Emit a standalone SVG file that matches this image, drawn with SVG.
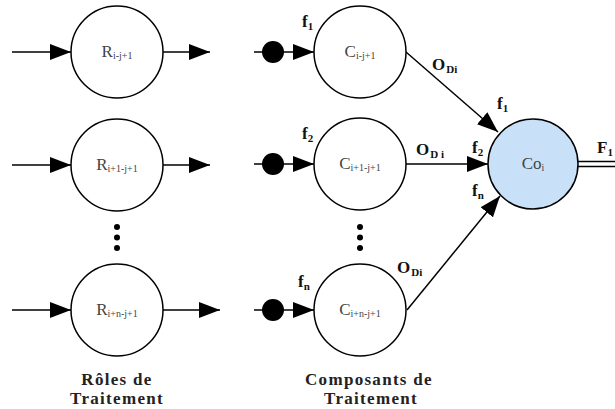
<svg xmlns="http://www.w3.org/2000/svg" width="615" height="409" viewBox="0 0 615 409">
<style>
.node{fill:#fff;stroke:#000;stroke-width:1.5}
.co{fill:#c8e1f8;stroke:#000;stroke-width:1.5}
.lbl{font-family:'Liberation Serif','Times New Roman','Noto Serif',Times,serif;font-size:17px;fill:#444;text-anchor:middle}
.sub{font-size:10px}
.edge{stroke:#000;stroke-width:1.5;fill:none}
.b{font-family:'Liberation Serif','Times New Roman','Noto Serif',Times,serif;font-weight:bold;font-size:17px;fill:#111}
.bs{font-size:11px}
.cap{font-family:'Liberation Serif','Times New Roman','Noto Serif',Times,serif;font-weight:bold;font-size:17px;fill:#222;text-anchor:middle;letter-spacing:1.3px}
.dot{fill:#000}
</style>
<defs>
<marker id="ah" markerUnits="userSpaceOnUse" markerWidth="22" markerHeight="16" refX="21" refY="8" orient="auto">
<path d="M0,0 L21,8 L0,16 Z" fill="#000"/>
</marker>
</defs>
<g id="connectors">
<line class="edge" x1="12" y1="52" x2="71" y2="52" marker-end="url(#ah)"/>
<line class="edge" x1="163" y1="52" x2="210" y2="52" marker-end="url(#ah)"/>
<line class="edge" x1="12" y1="165" x2="71" y2="165" marker-end="url(#ah)"/>
<line class="edge" x1="163" y1="165" x2="210" y2="165" marker-end="url(#ah)"/>
<line class="edge" x1="12" y1="310" x2="71" y2="310" marker-end="url(#ah)"/>
<line class="edge" x1="163" y1="310" x2="220" y2="310" marker-end="url(#ah)"/>
<line class="edge" x1="254" y1="52" x2="314" y2="52" marker-end="url(#ah)"/>
<line class="edge" x1="254" y1="164" x2="314" y2="164" marker-end="url(#ah)"/>
<line class="edge" x1="254" y1="310" x2="314" y2="310" marker-end="url(#ah)"/>
<circle class="dot" cx="273" cy="52" r="11"/>
<circle class="dot" cx="273" cy="164" r="11"/>
<circle class="dot" cx="273" cy="310" r="11"/>
<line class="edge" x1="406" y1="52" x2="498" y2="132" marker-end="url(#ah)"/>
<line class="edge" x1="406" y1="164" x2="488" y2="164" marker-end="url(#ah)"/>
<line class="edge" x1="407" y1="310" x2="500" y2="196" marker-end="url(#ah)"/>
<line class="edge" x1="578" y1="161.5" x2="615" y2="161.5"/>
<line class="edge" x1="578" y1="166.5" x2="615" y2="166.5"/>
<text class="b" x="432" y="70">O<tspan class="bs" dy="3" dx="1">Di</tspan></text>
<text class="b" x="416" y="155">O<tspan class="bs" dy="3" dx="1">D i</tspan></text>
<text class="b" x="397" y="273">O<tspan class="bs" dy="3" dx="1">Di</tspan></text>
<text class="b" x="497" y="109">f<tspan class="bs" dy="3">1</tspan></text>
<text class="b" x="472" y="153">f<tspan class="bs" dy="3">2</tspan></text>
<text class="b" x="472" y="196">f<tspan class="bs" dy="3">n</tspan></text>
<text class="b" x="597" y="153">F<tspan class="bs" dy="3">1</tspan></text>
<text class="b" x="302" y="27">f<tspan class="bs" dy="3">1</tspan></text>
<text class="b" x="302" y="139">f<tspan class="bs" dy="3">2</tspan></text>
<text class="b" x="298" y="287">f<tspan class="bs" dy="3">n</tspan></text>
</g>
<g id="R1"><circle class="node" cx="117" cy="52" r="46"/><text class="lbl" x="117" y="57">R<tspan class="sub" dy="2">i-j+1</tspan></text></g>
<g id="R2"><circle class="node" cx="117" cy="165" r="46"/><text class="lbl" x="117" y="170">R<tspan class="sub" dy="2">i+1-j+1</tspan></text></g>
<g id="R3"><circle class="node" cx="117" cy="310" r="46"/><text class="lbl" x="117" y="315">R<tspan class="sub" dy="2">i+n-j+1</tspan></text></g>
<g id="Rdots"><circle class="dot" cx="117" cy="227" r="3"/><circle class="dot" cx="117" cy="237.5" r="3"/><circle class="dot" cx="117" cy="248" r="3"/></g>
<g id="C1"><circle class="node" cx="360" cy="52" r="46"/><text class="lbl" x="360" y="57">C<tspan class="sub" dy="2">i-j+1</tspan></text></g>
<g id="C2"><circle class="node" cx="360" cy="164" r="46"/><text class="lbl" x="360" y="169">C<tspan class="sub" dy="2">i+1-j+1</tspan></text></g>
<g id="C3"><circle class="node" cx="360" cy="310" r="46"/><text class="lbl" x="360" y="315">C<tspan class="sub" dy="2">i+n-j+1</tspan></text></g>
<g id="Cdots"><circle class="dot" cx="360" cy="227" r="3"/><circle class="dot" cx="360" cy="237.5" r="3"/><circle class="dot" cx="360" cy="248" r="3"/></g>
<g id="Co"><circle class="co" cx="533" cy="164" r="45"/><text class="lbl" x="533" y="169">Co<tspan class="sub" dy="2">i</tspan></text></g>
<g id="captions">
<text class="cap" x="117" y="385">Rôles de</text>
<text class="cap" x="117" y="404">Traitement</text>
<text class="cap" x="369" y="385">Composants de</text>
<text class="cap" x="371" y="404">Traitement</text>
</g>
</svg>
